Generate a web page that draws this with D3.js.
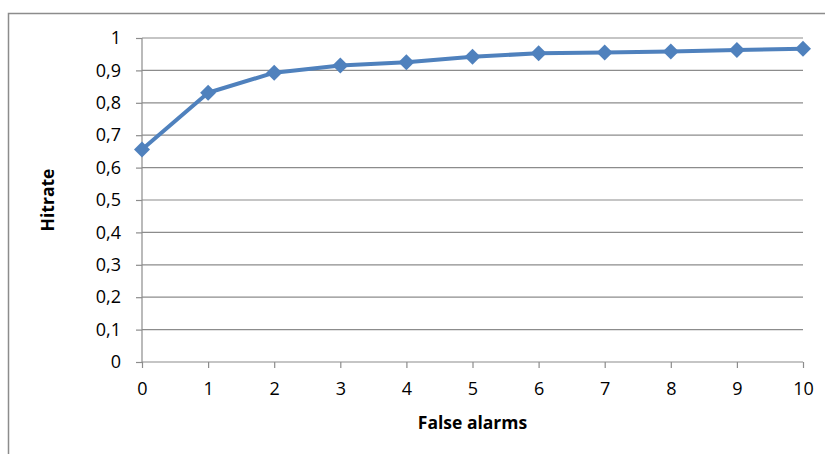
<!DOCTYPE html>
<html lang="en">
<head>
    <meta charset="UTF-8">
    <title>Hitrate vs False alarms</title>
    <style>
        body { margin: 0; background: #fff; }
        svg { display: block; }
        .tick text { font-family: "Open Sans", sans-serif; font-size: 18px; fill: #000; }
        .axis-title { font-family: "Open Sans", sans-serif; font-size: 17.5px; font-weight: bold; fill: #000; }
    </style>
</head>
<body>
    <script src="https://cdn.jsdelivr.net/npm/d3@7"></script>
    <script>
        let falseAlarms = [0, 1, 2, 3, 4, 5, 6, 7, 8, 9, 10]
        let hitrate = [0.656, 0.831, 0.893, 0.915, 0.925, 0.942, 0.953, 0.955, 0.958, 0.963, 0.967]
        let yTicks = [0, 0.1, 0.2, 0.3, 0.4, 0.5, 0.6, 0.7, 0.8, 0.9, 1]

        let w = 825
        let h = 454
        let padL = 142, padR = 803, padT = 38, padB = 362

        let svg = d3.select('body').append('svg')
            .attr('width', w)
            .attr('height', h)

        // chart frame (runs off the right and bottom edge)
        svg.append('rect')
            .attr('x', 8.5).attr('y', 13.5)
            .attr('width', w).attr('height', h)
            .attr('fill', 'none')
            .attr('stroke', '#8c8c8c')
            .attr('stroke-width', 1.5)

        let xScale = d3.scaleLinear().domain([0, 10]).range([padL, padR])
        let yScale = d3.scaleLinear().domain([0, 1]).range([padB, padT])

        // gridlines
        svg.append('g')
            .selectAll('line')
            .data(yTicks.slice(1))
            .enter()
            .append('line')
            .attr('x1', padL).attr('x2', padR)
            .attr('y1', d => yScale(d)).attr('y2', d => yScale(d))
            .attr('stroke', '#8c8c8c')
            .attr('stroke-width', 1.2)

        let fmt = d => String(d).replace('.', ',')

        let yAxis = d3.axisLeft(yScale).tickValues(yTicks).tickFormat(fmt).tickSize(6).tickPadding(15)
        let gy = svg.append('g')
            .attr('transform', 'translate(' + padL + ',0)')
            .call(yAxis)
        gy.selectAll('path, line').attr('stroke', '#8c8c8c').attr('stroke-width', 1.2)
        gy.select('.domain').attr('d', 'M0,' + padB + 'V' + padT)

        let xAxis = d3.axisBottom(xScale).tickValues(falseAlarms).tickSize(6).tickPadding(14)
        let gx = svg.append('g')
            .attr('transform', 'translate(0,' + padB + ')')
            .call(xAxis)
        gx.selectAll('path, line').attr('stroke', '#8c8c8c').attr('stroke-width', 1.2)
        gx.select('.domain').attr('d', 'M' + padL + ',0H' + padR)

        let pts = falseAlarms.map((x, i) => [x, hitrate[i]])

        svg.append('path')
            .datum(pts)
            .attr('fill', 'none')
            .attr('stroke', '#4f81bd')
            .attr('stroke-width', 4)
            .attr('stroke-linejoin', 'round')
            .attr('d', d3.line().x(d => xScale(d[0])).y(d => yScale(d[1])))

        svg.selectAll('.marker')
            .data(pts)
            .enter()
            .append('path')
            .attr('class', 'marker')
            .attr('fill', '#4f81bd')
            .attr('transform', d => 'translate(' + xScale(d[0]) + ',' + yScale(d[1]) + ')')
            .attr('d', 'M0,-8L8,0L0,8L-8,0Z')

        svg.append('text')
            .attr('class', 'axis-title')
            .attr('text-anchor', 'middle')
            .attr('transform', 'translate(54,' + (padT + padB) / 2 + ') rotate(-90)')
            .text('Hitrate')

        svg.append('text')
            .attr('class', 'axis-title')
            .attr('text-anchor', 'middle')
            .attr('x', (padL + padR) / 2)
            .attr('y', 429)
            .text('False alarms')
    </script>
</body>
</html>
